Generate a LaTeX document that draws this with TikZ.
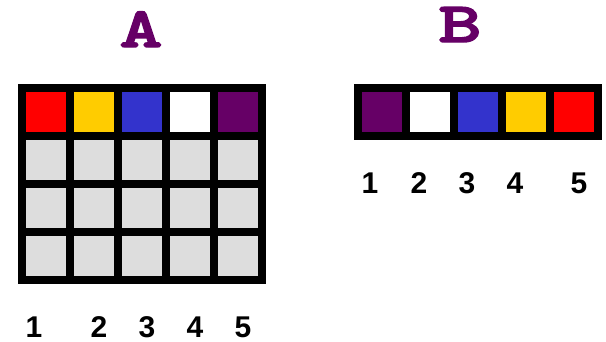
\documentclass[tikz,border=0pt]{standalone}
\usepackage{fontspec}
\setmainfont{Liberation Sans}
\newfontfamily\lettfont{Latin Modern Mono Light}[BoldFeatures={FakeBold=2.5,FakeStretch=1.45}]
\definecolor{cellred}{HTML}{FF0000}
\definecolor{cellyellow}{HTML}{FFCC00}
\definecolor{cellblue}{HTML}{3333CC}
\definecolor{cellpurple}{HTML}{660066}
\definecolor{cellgray}{HTML}{DDDDDD}
\begin{document}
\begin{tikzpicture}[x=1pt,y=-1pt,
    cell/.style={minimum size=40pt,inner sep=0pt,outer sep=0pt,anchor=north west},
    digit/.style={font=\fontsize{30}{30}\selectfont\bfseries,anchor=base,inner sep=0pt},
    title/.style={font=\lettfont\bfseries\fontsize{57}{57}\selectfont,text=cellpurple,anchor=base,inner sep=0pt}]
    \useasboundingbox (0,0) rectangle (606,341);
    % grid A
    \fill (18,84) rectangle (266,284);
    \foreach \c/\col in {0/cellred,1/cellyellow,2/cellblue,3/white,4/cellpurple}
      \node[cell,fill=\col] (a-0-\c) at (26+48*\c,92) {};
    \foreach \r in {1,2,3}
      \foreach \c in {0,...,4}
        \node[cell,fill=cellgray] (a-\r-\c) at (26+48*\c,92+48*\r) {};
    % grid B
    \fill (354,84) rectangle (602,140);
    \foreach \c/\col in {0/cellpurple,1/white,2/cellblue,3/cellyellow,4/cellred}
      \node[cell,fill=\col] (b-\c) at (362+48*\c,92) {};
    % titles
    \node[title] (ta) at (141,47) {A};
    \node[title] (tb) at (460,42) {B};
    % numbers
    \foreach \n/\x in {1/34,2/99,3/147,4/195,5/243}
      \node[digit] (na-\n) at (\x,337) {\n};
    \foreach \n/\x in {1/370,2/419,3/467,4/515,5/579}
      \node[digit] (nb-\n) at (\x,193) {\n};
\end{tikzpicture}
\end{document}
